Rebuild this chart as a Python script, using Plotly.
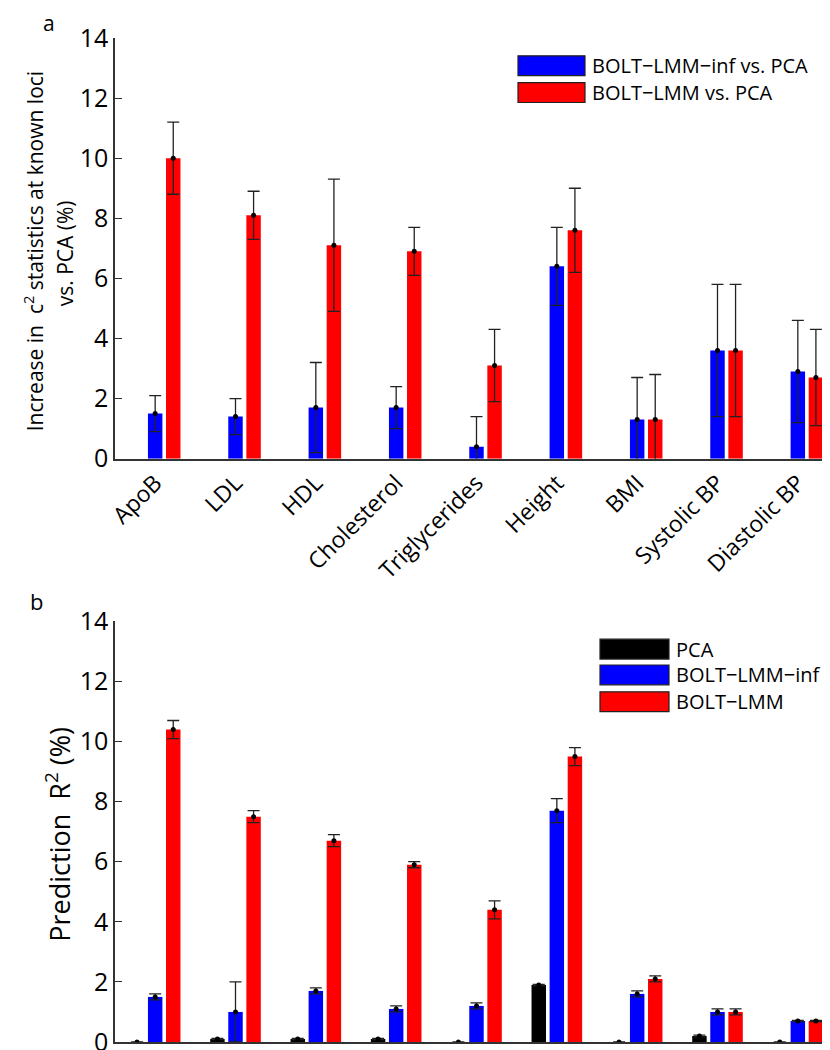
import plotly.graph_objects as go
import numpy as np

# ---------------- data ----------------
categories = ["ApoB", "LDL", "HDL", "Cholesterol", "Triglycerides",
              "Height", "BMI", "Systolic BP", "Diastolic BP"]

# panel a: increase in chi^2 statistics at known loci vs. PCA (%)
a_inf = [1.5, 1.4, 1.7, 1.7, 0.4, 6.4, 1.3, 3.6, 2.9]
a_inf_err = [0.6, 0.6, 1.5, 0.7, 1.0, 1.3, 1.4, 2.2, 1.7]
a_lmm = [10.0, 8.1, 7.1, 6.9, 3.1, 7.6, 1.3, 3.6, 2.7]
a_lmm_err = [1.2, 0.8, 2.2, 0.8, 1.2, 1.4, 1.5, 2.2, 1.6]

# panel b: prediction R^2 (%)
b_pca = [0.0, 0.1, 0.1, 0.1, 0.0, 1.9, 0.0, 0.2, 0.0]
b_pca_err = [0.0, 0.02, 0.02, 0.02, 0.0, 0.02, 0.0, 0.03, 0.0]
b_inf = [1.5, 1.0, 1.7, 1.1, 1.2, 7.7, 1.6, 1.0, 0.7]
b_inf_err = [0.1, 1.0, 0.1, 0.1, 0.1, 0.4, 0.1, 0.1, 0.02]
b_lmm = [10.4, 7.5, 6.7, 5.9, 4.4, 9.5, 2.1, 1.0, 0.7]
b_lmm_err = [0.3, 0.2, 0.2, 0.1, 0.3, 0.3, 0.1, 0.1, 0.02]

y_ticks = [0, 2, 4, 6, 8, 10, 12, 14]

legend_a = ["BOLT\u2212LMM\u2212inf vs. PCA", "BOLT\u2212LMM vs. PCA"]
legend_b = ["PCA", "BOLT\u2212LMM\u2212inf", "BOLT\u2212LMM"]

# ---------------- style ----------------
FONT = "Open Sans"
BLUE, RED, BLACK = "#0000FF", "#FF0000", "#000000"
AXC = "#333333"
W, H = 830, 1050
ML, MR, MT, MB = 107, 0, 30, 8
PW, PH = W - ML - MR, H - MT - MB
OFF = 0.225
BW = 0.18
TICK_SIZE = 25

idx = np.arange(1, len(categories) + 1)

fig = go.Figure()


def add_series(xpos, vals, errs, color, xa, ya):
    fig.add_trace(go.Bar(
        x=xpos, y=vals, width=BW, marker=dict(color=color, line=dict(width=0)),
        error_y=dict(type="data", array=errs, visible=True, color="#222222",
                     thickness=1.3, width=6),
        xaxis=xa, yaxis=ya, showlegend=False, hoverinfo="y"))
    fig.add_trace(go.Scatter(
        x=xpos, y=vals, mode="markers",
        marker=dict(color="black", size=5),
        xaxis=xa, yaxis=ya, showlegend=False, hoverinfo="skip"))


# panel a
add_series(idx, a_inf, a_inf_err, BLUE, "x", "y")
add_series(idx + OFF, a_lmm, a_lmm_err, RED, "x", "y")
# panel b
add_series(idx - OFF, b_pca, b_pca_err, BLACK, "x2", "y2")
add_series(idx, b_inf, b_inf_err, BLUE, "x2", "y2")
add_series(idx + OFF, b_lmm, b_lmm_err, RED, "x2", "y2")


def px_x(px):
    return (px - ML) / PW


def px_y(py):
    return (H - MB - py) / PH


dom_a = [px_y(454), 1.0]
dom_b = [0.0, px_y(618)]

axis_common = dict(showline=True, linecolor=AXC, linewidth=1.5, mirror=False,
                   showgrid=False, zeroline=False)

fig.update_layout(
    width=W, height=H,
    margin=dict(l=ML, r=MR, t=MT, b=MB),
    paper_bgcolor="white", plot_bgcolor="white",
    font=dict(family=FONT, color="black"),
    barmode="overlay",
    xaxis=dict(domain=[0, 1], range=[0.5, 9.5], tickmode="array",
               tickvals=list(idx), ticktext=categories, tickangle=-45,
               ticks="", tickfont=dict(size=23, family=FONT), anchor="y",
               **axis_common),
    yaxis=dict(domain=dom_a, range=[0, 14], tickmode="array", tickvals=y_ticks,
               ticks="inside", ticklen=7, tickcolor=AXC, tickwidth=1.2,
               tickfont=dict(size=TICK_SIZE, family=FONT), anchor="x",
               ticklabeloverflow="allow", **axis_common),
    xaxis2=dict(domain=[0, 1], range=[0.5, 9.5], showticklabels=False,
                ticks="", anchor="y2", **axis_common),
    yaxis2=dict(domain=dom_b, range=[0, 14], tickmode="array", tickvals=y_ticks,
                ticks="inside", ticklen=7, tickcolor=AXC, tickwidth=1.2,
                tickfont=dict(size=TICK_SIZE, family=FONT), anchor="x2",
                ticklabeloverflow="allow", **axis_common),
)

annotations = []
shapes = []

# panel labels
annotations.append(dict(text="a", x=px_x(41), y=px_y(-1), xref="paper", yref="paper",
                        showarrow=False, font=dict(size=21, family=FONT),
                        xanchor="center", yanchor="top"))
annotations.append(dict(text="b", x=px_x(28), y=px_y(597), xref="paper", yref="paper",
                        showarrow=False, font=dict(size=22, family=FONT),
                        xanchor="center", yanchor="middle"))

# axis titles (panel a: two lines placed separately)
annotations.append(dict(text="Increase in  c<sup>2</sup> statistics at known loci",
                        x=px_x(25), y=px_y(245), xref="paper", yref="paper",
                        showarrow=False, textangle=-90, font=dict(size=21, family=FONT),
                        xanchor="center", yanchor="middle"))
annotations.append(dict(text="vs. PCA (%)",
                        x=px_x(57), y=px_y(247), xref="paper", yref="paper",
                        showarrow=False, textangle=-90, font=dict(size=21, family=FONT),
                        xanchor="center", yanchor="middle"))
annotations.append(dict(text="Prediction  R<sup>2</sup> (%)",
                        x=px_x(50), y=px_y(833), xref="paper", yref="paper",
                        showarrow=False, textangle=-90, font=dict(size=27, family=FONT),
                        xanchor="center", yanchor="middle"))


def legend_block(x0, x1, tops, h, labels, colors):
    for t, lab, col in zip(tops, labels, colors):
        shapes.append(dict(type="rect", xref="paper", yref="paper",
                           x0=px_x(x0), x1=px_x(x1), y0=px_y(t + h), y1=px_y(t),
                           fillcolor=col, line=dict(color="#222222", width=1.2)))
        annotations.append(dict(text=lab, x=px_x(x1 + 5), y=px_y(t + h / 2),
                                xref="paper", yref="paper", showarrow=False,
                                xanchor="left", yanchor="middle",
                                font=dict(size=20, family=FONT)))


legend_block(510, 577, [48, 75], 20, legend_a, [BLUE, RED])
legend_block(592, 661, [636, 662, 689], 20, legend_b, [BLACK, BLUE, RED])

fig.update_layout(annotations=annotations, shapes=shapes)

fig.write_html("out.html")
